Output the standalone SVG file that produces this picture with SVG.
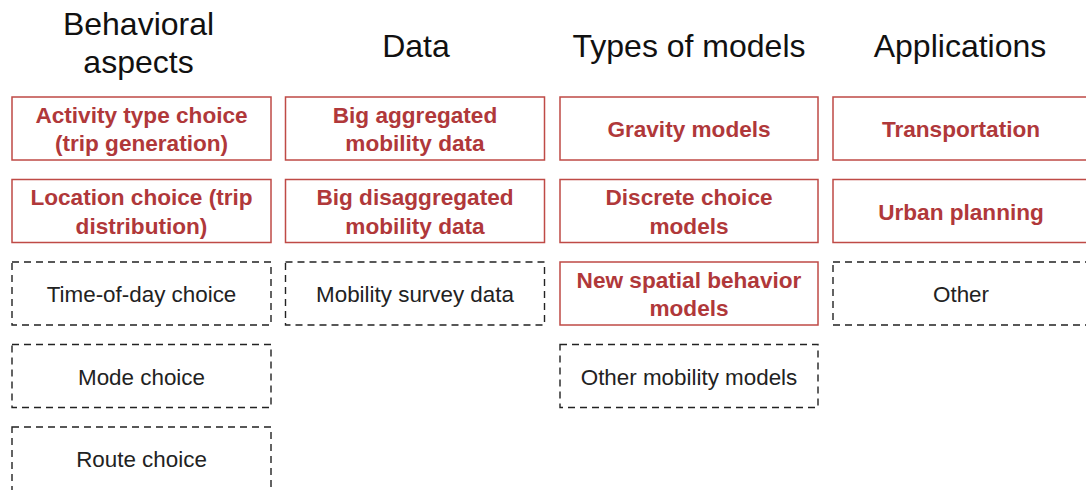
<svg xmlns="http://www.w3.org/2000/svg" width="1086" height="490" viewBox="0 0 1086 490">
<style>
.bg{fill:#fff}
.h{font-family:"Liberation Sans",Arial,sans-serif;font-size:32px;fill:#111;text-anchor:middle}
.r rect{fill:#fff;stroke:#bf4a46;stroke-width:1.5}
.r text{font-family:"Liberation Sans",Arial,sans-serif;font-size:22.6px;font-weight:bold;fill:#b0383a;text-anchor:middle}
.d rect{fill:#fff;stroke:#222;stroke-width:1.4;stroke-dasharray:7 5}
.d text{font-family:"Liberation Sans",Arial,sans-serif;font-size:22.4px;fill:#222;text-anchor:middle}
</style>
<rect class="bg" x="0" y="0" width="1086" height="490"/>
<g id="titles">
<text class="h" x="138.5" y="35">Behavioral</text>
<text class="h" x="138.5" y="73">aspects</text>
<text class="h" x="416" y="57">Data</text>
<text class="h" x="689" y="57">Types of models</text>
<text class="h" x="960" y="57">Applications</text>
</g>
<g id="n-activity" class="r"><rect x="12" y="97" width="259" height="63"/><text x="141.5" y="122.5">Activity type choice</text><text x="141.5" y="151">(trip generation)</text></g>
<g id="n-location" class="r"><rect x="12" y="179.5" width="259" height="63"/><text x="141.5" y="205">Location choice (trip</text><text x="141.5" y="233.5">distribution)</text></g>
<g id="n-time" class="d"><rect x="12" y="262" width="259" height="63"/><text x="141.5" y="302">Time-of-day choice</text></g>
<g id="n-mode" class="d"><rect x="12" y="344.5" width="259" height="63"/><text x="141.5" y="384.5">Mode choice</text></g>
<g id="n-route" class="d"><rect x="12" y="427" width="259" height="80"/><text x="141.5" y="467">Route choice</text></g>
<g id="n-bigagg" class="r"><rect x="285.5" y="97" width="259" height="63"/><text x="415" y="122.5">Big aggregated</text><text x="415" y="151">mobility data</text></g>
<g id="n-bigdis" class="r"><rect x="285.5" y="179.5" width="259" height="63"/><text x="415" y="205">Big disaggregated</text><text x="415" y="233.5">mobility data</text></g>
<g id="n-survey" class="d"><rect x="285.5" y="262" width="259" height="63"/><text x="415" y="302">Mobility survey data</text></g>
<g id="n-gravity" class="r"><rect x="560" y="97" width="258" height="63"/><text x="689" y="137">Gravity models</text></g>
<g id="n-discrete" class="r"><rect x="560" y="179.5" width="258" height="63"/><text x="689" y="205">Discrete choice</text><text x="689" y="233.5">models</text></g>
<g id="n-newspatial" class="r"><rect x="560" y="262" width="258" height="63"/><text x="689" y="287.5">New spatial behavior</text><text x="689" y="316">models</text></g>
<g id="n-othermob" class="d"><rect x="560" y="344.5" width="258" height="63"/><text x="689" y="384.5">Other mobility models</text></g>
<g id="n-transport" class="r"><rect x="833" y="97" width="260" height="63"/><text x="961" y="137">Transportation</text></g>
<g id="n-urban" class="r"><rect x="833" y="179.5" width="260" height="63"/><text x="961" y="219.5">Urban planning</text></g>
<g id="n-other" class="d"><rect x="833" y="262" width="260" height="63"/><text x="961" y="302">Other</text></g>
<g id="connectors"></g>
</svg>
